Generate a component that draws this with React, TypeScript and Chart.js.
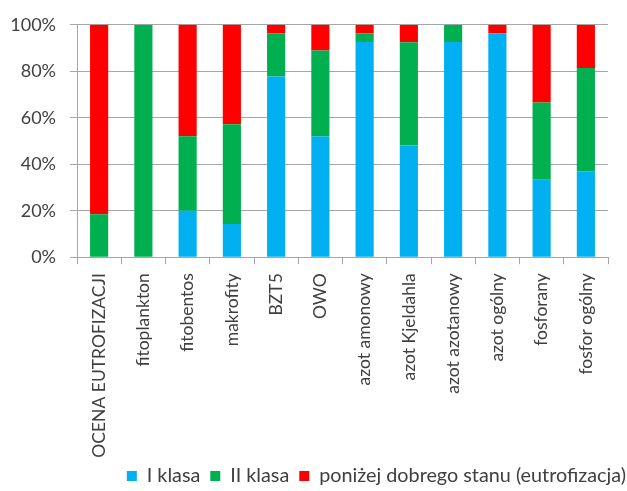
import React, { useEffect, useRef } from "react";
import { Chart, registerables } from "chart.js";

Chart.register(...registerables);

const categories = [
  "OCENA EUTROFIZACJI",
  "fitoplankton",
  "fitobentos",
  "makrofity",
  "BZT5",
  "OWO",
  "azot amonowy",
  "azot Kjeldahla",
  "azot azotanowy",
  "azot ogólny",
  "fosforany",
  "fosfor ogólny",
];

const seriesNames = ["I klasa", "II klasa", "poniżej dobrego stanu (eutrofizacja)"];

const klasaI = [0, 0, 20, 14.3, 77.8, 51.9, 92.6, 48.1, 92.6, 96.3, 33.3, 37.0];
const klasaII = [18.5, 100, 32, 42.9, 18.5, 37.0, 3.7, 44.4, 7.4, 0, 33.3, 44.4];
const ponizej = [81.5, 0, 48, 42.9, 3.7, 11.1, 3.7, 7.4, 0, 3.7, 33.3, 18.5];

const yTicks = [0, 20, 40, 60, 80, 100];

const colors = ["#00B0F0", "#00B050", "#FF0000"];
const FONT = "Lato, 'Open Sans', sans-serif";
const TEXT = "#404040";
const GRID = "#A6A6A6";

const legendShift = {
  id: "legendShift",
  afterLayout(chart: any) {
    const lg = chart.legend;
    if (lg) {
      lg.top -= 3;
      lg.bottom -= 3;
    }
  },
};

export default function App() {
  const ref = useRef<HTMLCanvasElement>(null);
  useEffect(() => {
    if (!ref.current) return;
    const chart = new Chart(ref.current, {
      type: "bar",
      plugins: [legendShift],
      data: {
        labels: categories,
        datasets: [klasaI, klasaII, ponizej].map((d, i) => ({
          label: seriesNames[i],
          data: d,
          backgroundColor: colors[i],
          borderWidth: 0,
          categoryPercentage: 1,
          barPercentage: 0.41,
        })),
      },
      options: {
        animation: false,
        responsive: false,
        maintainAspectRatio: false,
        layout: { padding: { top: 23, right: -9, left: 0, bottom: -8 } },
        plugins: {
          tooltip: { enabled: false },
          legend: {
            position: "bottom",
            align: "end",
            labels: {
              boxWidth: 10,
              boxHeight: 10,
              padding: 10,
              color: TEXT,
              font: { family: FONT, size: 19.8 },
            },
          },
        },
        scales: {
          x: {
            stacked: true,
            grid: {
              offset: true,
              drawOnChartArea: false,
              drawTicks: true,
              tickLength: 7,
              color: GRID,
            },
            border: { display: true, color: GRID },
            ticks: {
              maxRotation: 90,
              minRotation: 90,
              autoSkip: false,
              padding: 9,
              color: TEXT,
              font: { family: FONT, size: 17.5 },
            },
            afterFit: (s: any) => {
              s.height = 202;
            },
          },
          y: {
            stacked: true,
            min: 0,
            max: 100,
            afterBuildTicks: (s: any) => {
              s.ticks = yTicks.map((v) => ({ value: v }));
            },
            grid: { color: GRID, tickLength: 7, drawTicks: true },
            border: { display: true, color: GRID },
            ticks: {
              color: TEXT,
              padding: 14,
              font: { family: FONT, size: 18 },
              callback: (v: any) => v + "%",
            },
            afterFit: (s: any) => {
              s.width = 77;
            },
          },
          yr: {
            position: "right",
            display: true,
            grid: { display: false },
            border: { display: false },
            ticks: { display: false },
            afterFit: (s: any) => {
              s.width = 28;
            },
          },
        },
      },
    });
    return () => chart.destroy();
  }, []);
  return (
    <div style={{ position: "fixed", left: 0, top: 0, width: 627, height: 491, background: "#fff" }}>
      <canvas ref={ref} width={627} height={491} style={{ width: 627, height: 491 }} />
    </div>
  );
}
